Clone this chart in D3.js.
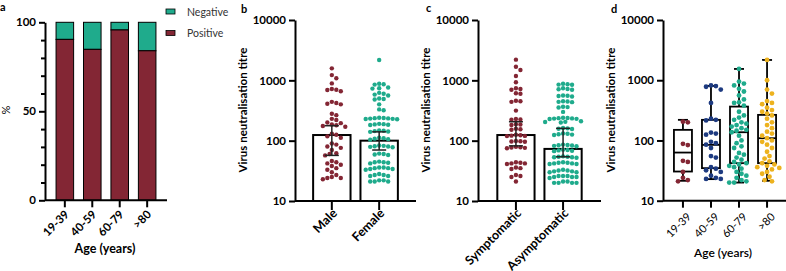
<!DOCTYPE html>
<html><head><meta charset="utf-8">
<script src="https://cdn.jsdelivr.net/npm/d3@7"></script>
<style>body{margin:0;background:#fff}svg{display:block}text{font-family:Lato,"Open Sans",sans-serif}</style>
</head><body><svg id="c" width="786" height="271"></svg>
<script>
// ---------- DATA ----------
const ageGroups = ["19-39","40-59","60-79",">80"];
const positivePct = [90.4, 84.8, 95.7, 84.0];
const legendLabels = ["Negative","Positive"];
const logTicks = [10,100,1000,10000];
const pctTicks = [0,50,100];

const sexGroups = ["Male","Female"];
const maleTitres = [1580,1220,1080,890,720,690,700,660,440,420,410,400,280,265,230,220,200,195,185,180,175,170,130,125,118,112,90,86,80,76,70,62,60,57,46,44,42,40,38,35,33,30,27,25,24,24,23];
const femaleTitres = [2170,880,860,850,760,740,730,620,600,580,560,500,490,480,400,330,320,240,238,236,234,232,230,228,226,190,188,186,184,182,148,146,144,142,140,112,110,108,106,104,83,82,81,80,79,78,61,60,59,58,45,44,44,43,42,36,36,35,35,34,34,33,28,27,27,26,26,22,22,21,21,21];
const sexMean = [124, 100];
const sexCI = [[57,177],[70,140]];

const symptomGroups = ["Symptomatic","Asymptomatic"];
const sympTitres = [2200,1680,1480,1180,930,740,720,700,610,600,460,450,440,315,228,225,222,188,185,182,158,155,152,125,123,121,120,119,99,98,97,96,79,78,77,76,75,44,43,42,42,41,36,35,34,27,26,25,21];
const asympTitres = [880,860,850,845,740,720,710,700,560,555,550,540,450,445,440,435,365,360,355,300,240,238,236,234,232,230,228,210,205,204,200,162,160,158,156,132,130,128,126,124,86,85,84,83,82,81,71,70,69,68,67,55,54,54,53,53,52,44,43,43,42,42,41,41,33,32,32,31,31,30,30,26,26,26,25,25,25,24,21,21,20,20,20,20];
const symptomMean = [124, 73];
const symptomCI = [[82,206],[54,160]];

const ageTitres = [
  [205,200,88,84,46,44,30,24,22,21],
  [820,800,780,700,420,230,220,215,135,130,125,95,90,85,75,55,52,36,34,32,30,26,24,23,23],
  [1540,950,880,820,720,650,560,480,430,420,380,300,260,240,220,200,190,180,170,160,150,145,137,120,100,90,80,75,62,58,52,48,44,42,40,38,36,34,30,28,26,24,22,21,20,20],
  [2170,1000,700,600,450,420,400,350,320,300,280,260,230,200,180,160,140,130,120,109,100,95,85,75,65,55,50,45,42,40,38,36,35,33,30,28,25,22,21]
];
// box stats: [min, q1, median, q3, max]
const ageBox = [[21.4,30.5,63,150,220],[22.8,34.7,84.5,220,805],[20,42,137,365,1540],[21.4,42,109,266,2170]];

// ---------- STYLE ----------
const RED="#832634", TEAL="#1FAB8C", NAVY="#1D3A80", GOLD="#EDB21E";
const ageColors=[RED,NAVY,TEAL,GOLD];
const svg=d3.select("#c");

function styleAxis(g){
  g.selectAll(".domain").attr("stroke","#000").attr("stroke-width",2);
  g.selectAll(".tick line").attr("stroke","#000").attr("stroke-width",2);
  g.selectAll(".tick text").attr("fill","#000");
}
function rotLabels(xa,size,weight,tx,ty){
  xa.selectAll(".tick text").attr("font-size",size).attr("font-weight",weight).attr("font-family","Lato")
    .attr("x",0).attr("y",0).attr("dy","0.35em")
    .attr("text-anchor","end").attr("transform",`translate(${tx},${ty}) rotate(-45)`);
}
function beeswarm(values,y,cx,r){
  const pts=[]; const sorted=values.slice().sort((a,b)=>b-a);
  const d=2*r*1.02;
  const offs=[0];
  for(let i=1;i<20;i++){offs.push(i*d*0.5,-i*d*0.5);}
  sorted.forEach(v=>{
    const py=y(v); let px=cx;
    for(const o of offs){
      const tx=cx+o;
      if(pts.every(p=>(p.x-tx)**2+(p.y-py)**2>=d*d*0.98)){px=tx;break;}
    }
    pts.push({x:px,y:py,v});
  });
  return pts;
}
function letter(t,x,y){svg.append("text").attr("x",x).attr("y",y).attr("font-size",11).attr("font-weight",700).text(t);}
function ylabel(t,x,y){svg.append("text").attr("transform",`translate(${x},${y}) rotate(-90)`).attr("text-anchor","middle").attr("font-size",11.5).attr("font-weight",700).text(t);}

// ---------- PANEL A ----------
(function(){
  const y=d3.scaleLinear().domain([0,100]).range([200.3,22.3]);
  const x=d3.scaleBand().domain(ageGroups).range([47,165]).paddingInner(0.36).paddingOuter(0.33);
  const g=svg.append("g");
  ageGroups.forEach((a,i)=>{
    g.append("rect").attr("x",x(a)).attr("y",y(100)).attr("width",x.bandwidth()).attr("height",y(positivePct[i])-y(100))
      .attr("fill",TEAL).attr("stroke","#000").attr("stroke-width",1);
    g.append("rect").attr("x",x(a)).attr("y",y(positivePct[i])).attr("width",x.bandwidth()).attr("height",y(0)-y(positivePct[i]))
      .attr("fill",RED).attr("stroke","#000").attr("stroke-width",1);
  });
  const ya=g.append("g").attr("transform","translate(45,0)").call(d3.axisLeft(y).tickValues(pctTicks).tickSize(6).tickSizeOuter(0));
  ya.selectAll(".tick text").attr("font-size",11.5).attr("font-weight",700).attr("font-family","Lato");
  styleAxis(ya);
  const minor=g.append("g").attr("transform","translate(45,0)").call(d3.axisLeft(y).tickValues(d3.range(10,100,10).filter(v=>v!==50)).tickSize(4).tickFormat(""));
  minor.select(".domain").remove(); styleAxis(minor);
  const xa=g.append("g").attr("transform","translate(0,200.3)").call(d3.axisBottom(x).tickSize(7).tickSizeOuter(0));
  xa.select(".domain").attr("d","M45,0H167");
  styleAxis(xa);
  rotLabels(xa,11.5,700,2,12);
  svg.append("text").attr("x",105).attr("y",253).attr("text-anchor","middle").attr("font-size",12.5).attr("font-weight",700).text("Age (years)");
  svg.append("text").attr("transform","translate(10,110) rotate(-90)").attr("text-anchor","middle").attr("font-size",11).text("%");
  letter("a",0,11);
  // legend
  [TEAL,RED].forEach((c,i)=>{
    svg.append("rect").attr("x",166).attr("y",9+i*21.5).attr("width",9).attr("height",5).attr("fill",c).attr("stroke","#000").attr("stroke-width",0.8);
    svg.append("text").attr("x",187).attr("y",12+i*21.5).attr("dy","0.35em").attr("font-size",10.5).attr("fill","#333").text(legendLabels[i]);
  });
})();

// ---------- PANELS B & C ----------
function dotBarPanel(cats,data,means,cis,x0,x1,o,lab,labX){
  const y=d3.scaleLog().domain([10,10000]).range([201,20]);
  const x=d3.scaleBand().domain(cats).range([x0,x1]).paddingInner(0.21).paddingOuter(o);
  const g=svg.append("g");
  cats.forEach((c,i)=>{
    g.append("rect").attr("x",x(c)).attr("y",y(means[i])).attr("width",x.bandwidth()).attr("height",y(10)-y(means[i]))
      .attr("fill","#fff").attr("stroke","#000").attr("stroke-width",2);
  });
  cats.forEach((c,i)=>{
    const cx=x(c)+x.bandwidth()/2;
    const pts=beeswarm(data[i],y,cx,2.2);
    g.selectAll(null).data(pts).enter().append("circle").attr("cx",p=>p.x).attr("cy",p=>p.y).attr("r",2.2).attr("fill",i===0?RED:TEAL);
  });
  cats.forEach((c,i)=>{
    const cx=x(c)+x.bandwidth()/2;
    g.append("line").attr("x1",cx).attr("x2",cx).attr("y1",y(cis[i][0])).attr("y2",y(cis[i][1])).attr("stroke","#222").attr("stroke-width",1.5);
    cis[i].forEach(v=>g.append("line").attr("x1",cx-7).attr("x2",cx+7).attr("y1",y(v)).attr("y2",y(v)).attr("stroke","#222").attr("stroke-width",1.5));
  });
  const ya=g.append("g").attr("transform",`translate(${x0},0)`).call(d3.axisLeft(y).tickValues(logTicks).tickFormat(d3.format("d")).tickSize(6).tickSizeOuter(0));
  ya.selectAll(".tick text").attr("font-size",11.5).attr("font-weight",700).attr("font-family","Lato");
  styleAxis(ya);
  const xa=g.append("g").attr("transform","translate(0,201)").call(d3.axisBottom(x).tickSize(9).tickSizeOuter(0));
  xa.select(".domain").attr("d",`M${x0},0H${x1}`);
  styleAxis(xa);
  rotLabels(xa,12.5,700,3,10);
  ylabel(lab,labX,110);
}
dotBarPanel(sexGroups,[maleTitres,femaleTitres],sexMean,sexCI,295,416,0.383,"Virus neutralisation titre",247);
letter("b",241,13);
dotBarPanel(symptomGroups,[sympTitres,asympTitres],symptomMean,symptomCI,478,601,0.41,"Virus neutralisation titre",430);
letter("c",426,12);

// ---------- PANEL D ----------
(function(){
  const x0=663,x1=787;
  const y=d3.scaleLog().domain([10,10000]).range([200.7,20]);
  const x=d3.scaleBand().domain(ageGroups).range([x0,x1]).paddingInner(0.357).paddingOuter(0.39);
  const g=svg.append("g");
  ageGroups.forEach((a,i)=>{
    const cx=x(a)+x.bandwidth()/2, b=ageBox[i], w=x.bandwidth();
    g.append("line").attr("x1",cx).attr("x2",cx).attr("y1",y(b[0])).attr("y2",y(b[4])).attr("stroke","#000").attr("stroke-width",1.8);
    [b[0],b[4]].forEach(v=>g.append("line").attr("x1",cx-5).attr("x2",cx+5).attr("y1",y(v)).attr("y2",y(v)).attr("stroke","#000").attr("stroke-width",1.8));
    g.append("rect").attr("x",x(a)).attr("y",y(b[3])).attr("width",w).attr("height",y(b[1])-y(b[3])).attr("fill","#fff").attr("stroke","#000").attr("stroke-width",1.8);
    g.append("line").attr("x1",x(a)).attr("x2",x(a)+w).attr("y1",y(b[2])).attr("y2",y(b[2])).attr("stroke","#000").attr("stroke-width",1.8);
    const pts=beeswarm(ageTitres[i],y,cx,2.4);
    g.selectAll(null).data(pts).enter().append("circle").attr("cx",p=>p.x).attr("cy",p=>p.y).attr("r",2.4).attr("fill",ageColors[i]);
  });
  const ya=g.append("g").attr("transform",`translate(${x0},0)`).call(d3.axisLeft(y).tickValues(logTicks).tickFormat(d3.format("d")).tickSize(6).tickSizeOuter(0));
  ya.selectAll(".tick text").attr("font-size",11.5).attr("font-weight",700).attr("font-family","Lato");
  styleAxis(ya);
  const xa=g.append("g").attr("transform","translate(0,200.7)").call(d3.axisBottom(x).tickSize(7).tickSizeOuter(0));
  xa.select(".domain").attr("d",`M${x0},0H${x1}`);
  styleAxis(xa);
  rotLabels(xa,11,400,6,14);
  ylabel("Virus neutralisation titre",615,110);
  svg.append("text").attr("x",723).attr("y",257).attr("text-anchor","middle").attr("font-size",12).attr("font-weight",600).text("Age (years)");
  letter("d",611,13);
})();
</script></body></html>
